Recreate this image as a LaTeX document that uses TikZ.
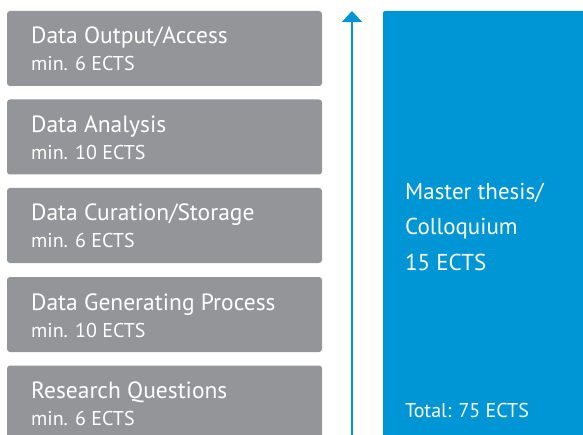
\documentclass[tikz,border=0pt]{standalone}
\usepackage{fontspec}
\setmainfont{PT Sans}
\usetikzlibrary{arrows.meta}
\definecolor{boxgray}{HTML}{939598}
\definecolor{thesisblue}{HTML}{0096D6}
\tikzset{
  modbox/.style={fill=boxgray, draw=none, rounded corners=3pt},
  modtitle/.style={anchor=base west, inner sep=0pt, text=white, font=\fontsize{23.5}{28}\selectfont},
  modsub/.style={anchor=base west, inner sep=0pt, text=white, font=\fontsize{20}{24}\selectfont},
  bluetext/.style={anchor=base west, inner sep=0pt, text=white, font=\fontsize{23}{28}\selectfont},
  totaltext/.style={anchor=base west, inner sep=0pt, text=white, font=\fontsize{20}{24}\selectfont},
}
\begin{document}
\begin{tikzpicture}[x=1pt,y=1pt]
\useasboundingbox (0,0) rectangle (583,434);
\clip (0,0) rectangle (583,434);
% gray boxes (image y top -> tikz y = 434 - top)
\fill[modbox] (7,423) rectangle (322,348);
\fill[modbox] (7,334.5) rectangle (322,259.5);
\fill[modbox] (7,246) rectangle (322,171);
\fill[modbox] (7,157) rectangle (322,82);
\fill[modbox] (7,68.5) rectangle (322,-10);
\node[modtitle] (t1) at (31,390) {Data Output/Access};
\node[modsub] (s1) at (31,363) {min. 6 ECTS};
\node[modtitle] (t2) at (31,301.5) {Data Analysis};
\node[modsub] (s2) at (31,274.5) {min. 10 ECTS};
\node[modtitle] (t3) at (31,213) {Data Curation/Storage};
\node[modsub] (s3) at (31,186) {min. 6 ECTS};
\node[modtitle] (t4) at (31,124) {Data Generating Process};
\node[modsub] (s4) at (31,97) {min. 10 ECTS};
\node[modtitle] (t5) at (31,35.5) {Research Questions};
\node[modsub] (s5) at (31,8.5) {min. 6 ECTS};
% arrow
\coordinate (arrbot) at (352,-5);
\coordinate (arrtop) at (352,423);
\draw[thesisblue, line width=2pt, -{Triangle[width=20pt,length=11pt]}] (arrbot) -- (arrtop);
% blue box
\fill[thesisblue, rounded corners=2pt] (383,423) rectangle (600,-10);
\node[bluetext] (m1) at (405,234) {Master thesis/};
\node[bluetext] (m2) at (405,199) {Colloquium};
\node[bluetext] (m3) at (405,164) {15 ECTS};
\node[totaltext] (tot) at (405,17) {Total: 75 ECTS};
\end{tikzpicture}
\end{document}
